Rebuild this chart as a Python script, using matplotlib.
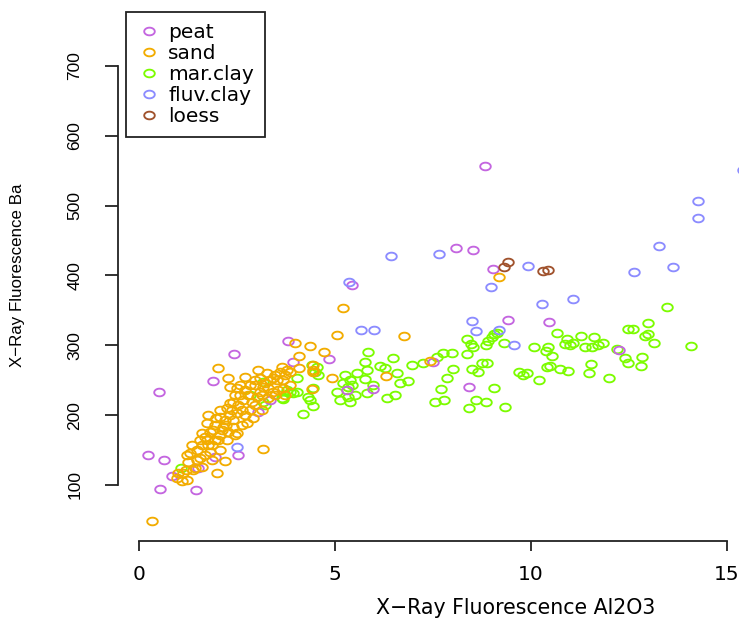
import numpy as np
import matplotlib
matplotlib.use("Agg")
import matplotlib.pyplot as plt
from matplotlib.path import Path
from matplotlib.lines import Line2D

# ---- data: XRF Al2O3 vs Ba, by soil type ----
categories = ["peat", "sand", "mar.clay", "fluv.clay", "loess"]
colors = ["#C466E0", "#F2AC00", "#7CFC00", "#8C8CFF", "#A0522D"]

peat_x = [0.51, 0.23, 0.64, 0.54, 1.45, 0.84, 1.51, 1.94, 2.53, 3.80, 2.42, 1.89, 3.93,
          4.85, 3.04, 3.34, 5.31, 5.97, 5.43, 7.50, 8.42, 8.09, 8.52, 8.83, 9.03, 9.41,
          10.46, 12.24]
peat_y = [233, 143, 136, 94, 93, 113, 124, 140, 143, 306, 287, 249, 276,
          280, 205, 222, 236, 238, 386, 276, 240, 439, 436, 557, 409, 336,
          333, 293]

sand_x = [0.33, 3.16, 4.36, 4.72, 4.08, 3.98, 4.08, 4.44, 4.92, 4.41, 5.05, 5.20, 6.30,
          6.76, 7.42, 9.18, 4.44,
          2.02, 2.27, 2.32, 2.70, 2.50, 3.27, 2.96, 3.16, 3.52, 3.42, 3.65, 3.78, 3.67,
          3.29, 3.01, 2.65, 2.40, 2.24, 2.07, 2.50, 2.83, 2.76, 2.40, 2.14, 1.89, 1.73,
          1.76, 1.61, 2.50, 2.07, 2.07, 2.32, 2.40, 1.68, 1.61, 1.48, 1.35, 1.30, 1.48,
          1.43, 1.61, 2.07, 1.81, 2.19, 1.99, 1.76, 1.94, 2.24, 2.45, 0.97, 1.10, 1.22,
          0.99, 1.12, 1.25, 3.42, 3.67, 4.44,
          2.58, 2.70, 2.83, 2.96, 3.09, 3.21, 3.34, 3.47, 3.60, 3.14, 2.88, 2.63, 2.32,
          2.19, 1.94, 1.81, 2.27, 2.70, 2.96, 3.09, 2.78, 2.53, 2.22, 2.02, 1.86, 1.68,
          1.56, 1.38, 1.20, 2.58, 3.04, 3.72, 3.85, 3.55, 3.29, 2.45, 2.12, 1.96, 2.37,
          1.73, 1.56, 1.86, 1.22, 2.63, 3.47, 3.72, 3.85, 3.14, 2.91]
sand_y = [48, 152, 299, 290, 285, 303, 268, 272, 253, 237, 315, 354, 256,
          313, 278, 398, 265,
          267.5, 253.2, 240.3, 254.7, 238.9, 260.4, 243.2, 240.3, 250.4, 233.2, 269.0, 264.7, 238.9,
          224.6, 226.0, 221.7, 218.9, 210.3, 197.4, 203.1, 207.4, 188.8, 183.1, 183.1, 178.8, 188.8,
          200.2, 174.5, 174.5, 171.6, 207.4, 217.4, 193.1, 168.7, 157.3, 150.1, 157.3, 145.8, 135.8,
          124.3, 125.8, 150.1, 147.3, 134.4, 117.2, 157.3, 164.4, 164.4, 171.6, 110.0, 105.7, 107.2,
          117.2, 117.2, 132.9, 253.2, 250.4, 261.8,
          228.9, 236.0, 243.2, 250.4, 253.2, 246.1, 250.4, 257.5, 261.8, 228.9, 218.9, 207.4, 200.2,
          193.1, 185.9, 175.9, 175.9, 200.2, 214.6, 233.2, 228.9, 214.6, 185.9, 164.4, 157.3, 143.0,
          138.7, 121.5, 121.5, 243.2, 264.7, 257.5, 243.2, 236.0, 238.9, 228.9, 178.8, 195.9, 207.4,
          164.4, 164.4, 135.8, 143.0, 185.9, 228.9, 228.9, 261.8, 207.4, 195.9]

marclay_x = [1.07, 3.16, 2.83, 3.16, 3.67, 3.78, 3.21, 3.65, 3.85, 3.93, 4.03, 4.03, 4.18,
             4.31, 4.36, 4.41, 4.44, 4.44, 4.49, 4.54, 4.57, 5.05, 5.13, 5.20, 5.26, 5.33,
             5.33, 5.38, 5.38, 5.43, 5.51, 5.56, 5.77, 5.77, 5.82, 5.82, 5.84, 5.97, 6.15,
             6.28, 6.33, 6.48, 6.53, 6.58, 6.66, 6.86, 6.96, 7.24, 7.55, 7.60, 7.70, 7.76,
             7.78, 7.86, 7.98, 8.01, 8.37, 8.37, 8.42, 8.47, 8.49, 8.52, 8.60, 8.65, 8.75,
             8.85, 8.85, 8.88, 8.90, 9.01, 9.06, 9.06, 9.13, 9.31, 9.34, 9.69, 9.80, 9.90,
             10.08, 10.20, 10.38, 10.43, 10.41, 10.48, 10.54, 10.66, 10.74, 10.87, 10.92,
             10.94, 11.00, 11.07, 11.28, 11.38, 11.48, 11.53, 11.56, 11.61, 11.71, 11.84,
             11.99, 12.19, 12.40, 12.47, 12.47, 12.60, 12.81, 12.83, 12.91, 12.98, 12.98,
             13.14, 13.47, 14.08]
marclay_y = [124, 247.5, 229, 219, 223, 236, 214.6, 224.6, 233, 231.7, 253.2, 233.2, 201.7,
             226, 221.7, 271.8, 238.9, 213.1, 261.8, 269, 257.5, 233.2, 221.7, 246.1, 257.5, 226,
             240.3, 250.4, 218.9, 243.2, 228.9, 260.4, 276.1, 251.8, 264.7, 231.7, 290.5, 243.2, 270.4,
             267.5, 224.6, 281.9, 228.9, 260.4, 246.1, 248.9, 271.8, 274.7, 218.9, 283.3, 237.5, 289,
             221.7, 253.2, 289, 266.1, 309.1, 287.6, 210.3, 302, 266.1, 297.6, 221.7, 261.8, 274.7,
             300.5, 218.9, 274.7, 306.2, 311.9, 316.2, 238.9, 317.7, 303.3, 211.7, 261.8, 257.5, 260.4,
             297.6, 250.4, 291.9, 297.6, 269, 270.4, 284.7, 317.7, 266.1, 301.9, 309.1,
             263.2, 300.5, 303.3, 313.4, 297.6, 260.4, 273.3, 297.6, 311.9, 300.5, 303.3,
             253.2, 294.8, 281.9, 274.7, 323.4, 323.4, 270.4, 283.3, 313.4, 316.2, 332,
             303.3, 354.9, 299]

fluvclay_x = [2.50, 5.36, 5.66, 5.99, 6.43, 7.65, 8.49, 8.60, 8.98, 9.18, 9.57, 9.92, 10.28,
              11.07, 12.63, 13.27, 13.62, 14.26, 14.26, 15.41]
fluvclay_y = [154, 391, 322, 322, 428, 431, 335, 320, 384, 322, 300, 414, 359,
              366, 405, 442, 412, 507, 482, 551]

loess_x = [9.41, 9.31, 10.31, 10.43]
loess_y = [419, 412, 406, 408]

series = {
    "peat": (peat_x, peat_y),
    "sand": (sand_x, sand_y),
    "mar.clay": (marclay_x, marclay_y),
    "fluv.clay": (fluvclay_x, fluvclay_y),
    "loess": (loess_x, loess_y),
}
draw_order = ["mar.clay", "peat", "fluv.clay", "sand", "loess"]

x_ticks = [0, 5, 10, 15]
y_ticks = [100, 200, 300, 400, 500, 600, 700]
x_label = "X\u2212Ray Fluorescence Al2O3"
y_label = "X\u2212Ray Fluorescence Ba"

# ---- styling ----
plt.rcParams["font.family"] = ["DejaVu Sans"]
W, H = 739, 623
fig = plt.figure(figsize=(W / 100, H / 100), dpi=100)
fig.patch.set_facecolor("white")

# plot region (extends past the right edge of the canvas)
left, right, bottom, top = 118, 914, 541, 9
ax = fig.add_axes([left / W, (H - bottom) / H, (right - left) / W, (bottom - top) / H])
ax.set_xlim(-0.536, 19.77)
ax.set_ylim(19.8, 781.6)

# open ring marker, slightly wider than tall
theta = np.linspace(0, 2 * np.pi, 73)
ring = Path(np.column_stack([1.375 * np.cos(theta), np.sin(theta)]), closed=True)
mk = dict(linestyle="none", marker=ring, ms=7.6, mfc="none", mew=1.35)

for name in draw_order:
    xs, ys = series[name]
    c = colors[categories.index(name)]
    ax.plot(xs, ys, mec=c, clip_on=False, **mk)

for s in ["top", "right"]:
    ax.spines[s].set_visible(False)
ax.spines["left"].set_bounds(y_ticks[0], y_ticks[-1])
ax.spines["bottom"].set_bounds(x_ticks[0], x_ticks[-1])
for s in ["left", "bottom"]:
    ax.spines[s].set_linewidth(1.3)
    ax.spines[s].set_color("#222222")

ax.set_xticks(x_ticks)
ax.set_xticklabels([str(v) for v in x_ticks])
ax.set_yticks(y_ticks)
ax.set_yticklabels([str(v) for v in y_ticks])
ax.tick_params(axis="x", length=6.9, width=1.3, pad=10.5, labelsize=14.5, color="#222222")
ax.tick_params(axis="y", length=9.5, width=1.3, pad=21.5, labelsize=12.5,
               labelrotation=90, color="#222222")
for lbl in ax.get_yticklabels():
    lbl.set_ha("center")
    lbl.set_va("center")
    lbl.set_fontfamily("Liberation Sans")

fig.text(516 / W, 1 - 608 / H, x_label, ha="center", va="center", fontsize=14.8)
fig.text(18 / W, 1 - 275 / H, y_label, ha="center", va="center", rotation=90,
         fontsize=12.2, family="Liberation Sans")

handles = [Line2D([], [], mec=c, **mk) for c in colors]
leg = ax.legend(handles, categories, loc="upper left",
                bbox_to_anchor=(126 / W, 1 - 12 / H), bbox_transform=fig.transFigure,
                fontsize=14.5, frameon=True, fancybox=False, borderaxespad=0,
                borderpad=0.55, handlelength=1.2, handletextpad=0.35,
                labelspacing=0.1, framealpha=1)
leg.get_frame().set_edgecolor("#222222")
leg.get_frame().set_linewidth(1.3)

fig.savefig("out.png", dpi=100)
